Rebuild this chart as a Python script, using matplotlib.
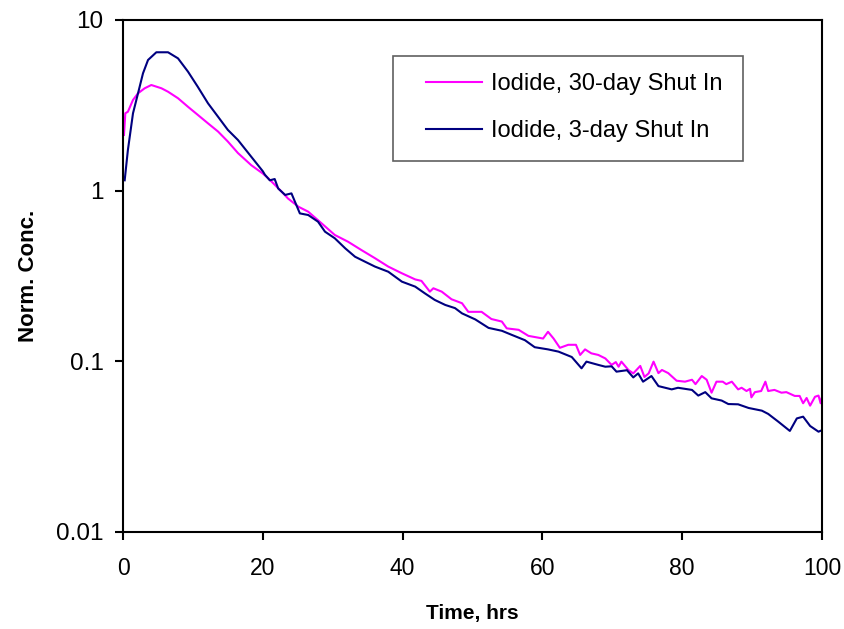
import matplotlib
matplotlib.use('Agg')
import matplotlib.pyplot as plt
from matplotlib.patches import Rectangle

plt.rcParams['font.family'] = ['Liberation Sans', 'DejaVu Sans']

# Iodide, 30-day shut in (magenta)
t_30 = [0.14, 0.33, 0.7, 1.43, 2.15, 3.1, 4.05, 5.5, 6.44, 7.87, 9.3, 10.7, 12.16, 13.6,
        15.0, 16.45, 18.35, 20.0, 20.8, 22.7, 23.6, 25.1, 26.5, 28.4, 30.3, 32.2, 34.1,
        36.05, 37.95, 39.9, 41.8, 42.7, 43.9, 44.4, 45.6, 47.0, 48.5, 49.4, 51.3, 52.7,
        54.2, 54.9, 56.6, 58.0, 60.1, 60.8, 61.6, 62.5, 63.7, 64.8, 65.4, 66.1, 67.0,
        68.0, 69.0, 69.9, 70.5, 70.9, 71.3, 72.3, 73.0, 74.0, 74.6, 75.2, 75.9, 76.6,
        77.1, 78.0, 79.2, 80.4, 81.4, 81.9, 82.8, 83.5, 84.2, 84.9, 85.8, 86.3, 87.1,
        88.0, 88.5, 89.2, 89.7, 89.9, 90.4, 91.3, 91.9, 92.3, 93.2, 94.2, 94.9, 96.1,
        96.8, 97.3, 97.8, 98.3, 99.0, 99.5, 99.8, 100.0]
c_30 = [2.12, 2.84, 2.9, 3.40, 3.72, 3.98, 4.16, 3.98, 3.80, 3.48, 3.10, 2.78, 2.48, 2.22,
        1.94, 1.66, 1.41, 1.26, 1.18, 0.986, 0.90, 0.805, 0.753, 0.644, 0.55, 0.502, 0.449,
        0.402, 0.359, 0.328, 0.302, 0.296, 0.256, 0.268, 0.256, 0.231, 0.219, 0.195, 0.195, 0.177,
        0.171, 0.156, 0.153, 0.141, 0.136, 0.149, 0.136, 0.12, 0.125, 0.125, 0.109, 0.1175, 0.1114,
        0.109, 0.104, 0.0953, 0.099, 0.093, 0.0996, 0.089, 0.085, 0.094, 0.081, 0.085, 0.0996, 0.0853,
        0.089, 0.0853, 0.077, 0.076, 0.078, 0.0735, 0.082, 0.078, 0.0655, 0.076, 0.076, 0.0735, 0.076,
        0.0685, 0.070, 0.067, 0.069, 0.0615, 0.066, 0.067, 0.076, 0.067, 0.068, 0.0655, 0.066, 0.0627,
        0.0627, 0.0568, 0.061, 0.055, 0.062, 0.063, 0.0568, 0.062]

# Iodide, 3-day shut in (navy)
t_3 = [0.24, 0.7, 1.43, 2.15, 2.86, 3.58, 4.77, 6.44, 7.87, 9.3, 10.7, 12.16, 13.6, 15.0,
       16.45, 18.35, 20.0, 20.3, 21.0, 21.7, 22.2, 23.2, 24.1, 25.3, 26.5, 27.9, 28.9, 30.3,
       31.8, 33.2, 34.6, 36.05, 37.95, 39.9, 41.8, 43.2, 44.6, 46.1, 47.5, 48.5, 50.4, 52.3,
       54.2, 55.6, 57.5, 58.9, 60.8, 62.3, 64.2, 65.6, 66.3, 68.0, 69.0, 69.9, 70.6, 72.1,
       73.0, 73.7, 74.4, 75.6, 76.6, 78.5, 79.4, 81.4, 82.3, 83.3, 84.2, 85.65, 86.6, 88.0,
       89.5, 91.4, 92.3, 93.75, 95.4, 96.4, 97.3, 98.3, 99.5, 100.0]
c_3 = [1.15, 1.73, 2.84, 3.72, 4.87, 5.83, 6.47, 6.47, 5.96, 4.98, 4.06, 3.25, 2.71, 2.27,
       1.98, 1.58, 1.30, 1.24, 1.15, 1.17, 1.03, 0.944, 0.964, 0.736, 0.72, 0.658, 0.575, 0.526,
       0.459, 0.41, 0.384, 0.359, 0.335, 0.293, 0.274, 0.25, 0.229, 0.214, 0.205, 0.191, 0.176, 0.157,
       0.151, 0.143, 0.133, 0.121, 0.1175, 0.114, 0.106, 0.091, 0.0996, 0.0953, 0.093, 0.0935, 0.087, 0.0887,
       0.0805, 0.085, 0.076, 0.082, 0.0716, 0.0685, 0.070, 0.068, 0.063, 0.066, 0.0607, 0.0589, 0.0562, 0.056,
       0.0533, 0.0514, 0.0492, 0.0443, 0.0391, 0.0463, 0.0474, 0.0418, 0.0387, 0.0395]

x_ticks = [0, 20, 40, 60, 80, 100]
y_ticks = [0.01, 0.1, 1, 10]
y_tick_labels = ['0.01', '0.1', '1', '10']

fig = plt.figure(figsize=(8.44, 6.29), dpi=100)
ax = fig.add_axes([123/844, 1 - 532/629, (822 - 123)/844, (532 - 20)/629])

ax.plot(t_30, c_30, color='#FF00FF', linewidth=1.5, label='Iodide, 30-day Shut In')
ax.plot(t_3, c_3, color='#000080', linewidth=1.5, label='Iodide, 3-day Shut In')

ax.set_yscale('log')
ax.set_xlim(0, 100)
ax.set_ylim(0.01, 10)
ax.set_xticks(x_ticks)
ax.set_yticks(y_ticks)
ax.set_yticklabels(y_tick_labels)
ax.minorticks_off()

for s in ax.spines.values():
    s.set_linewidth(1.5)
    s.set_color('black')

ax.tick_params(axis='x', direction='out', length=6, width=1.5, labelsize=16.5, pad=12)
ax.tick_params(axis='y', direction='out', length=6, width=1.5, labelsize=17.5, pad=8)

ax.set_xlabel('Time, hrs', fontsize=15, fontweight='bold', labelpad=17)
ax.set_ylabel('Norm. Conc.', fontsize=16, fontweight='bold', labelpad=12)

# legend entries without frame, frame box drawn separately (wider left padding)
leg = ax.legend(loc='upper left', bbox_to_anchor=(408/844, 1 - 55.7/629),
                bbox_transform=fig.transFigure, borderaxespad=0, fontsize=17,
                frameon=False, handlelength=2.4, handletextpad=0.35,
                labelspacing=1.05, borderpad=0.75)
box = Rectangle((393/844, 1 - 160.7/629), 350/844, 105/629, transform=fig.transFigure,
                fill=False, edgecolor='#606060', linewidth=1.2, zorder=5)
fig.patches.append(box)

fig.savefig('out.png', dpi=100)
